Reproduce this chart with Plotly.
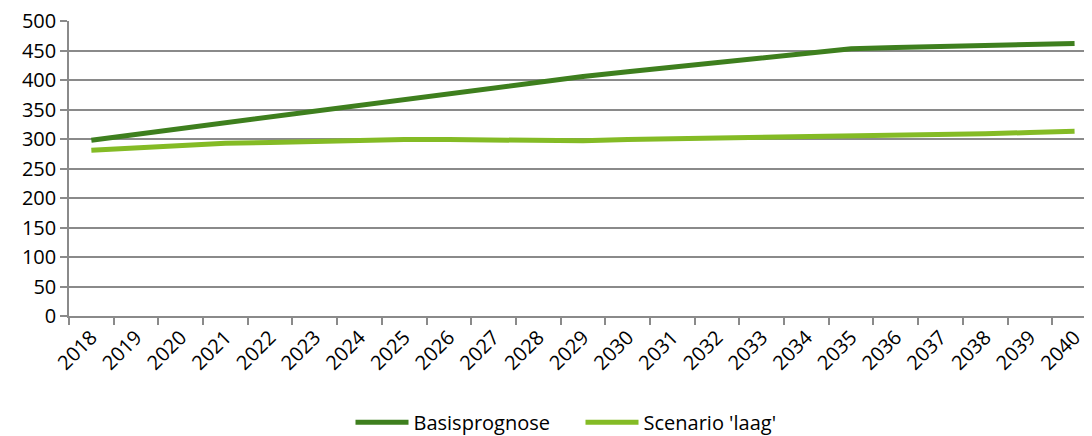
import plotly.graph_objects as go

years = [str(y) for y in range(2018, 2041)]
basis = [298, 308, 318, 328, 338, 348, 358, 368, 378, 387, 397, 406,
         414, 422, 430, 438, 446, 453, 455, 457, 459, 461, 462]
laag = [281, 285, 290, 293, 294, 296, 298, 299, 299, 298, 297, 297,
        299, 300, 302, 302, 303, 304, 306, 307, 309, 311, 313]

FONT = "Open Sans"
GRID = "#8a8a8a"

fig = go.Figure()
fig.add_trace(go.Scatter(x=years, y=basis, mode="lines", name="Basisprognose",
                         line=dict(color="#3e7f1e", width=5)))
fig.add_trace(go.Scatter(x=years, y=laag, mode="lines", name="Scenario 'laag'",
                         line=dict(color="#84bb25", width=5)))

# page body has an 8px default margin, so the figure is sized to fit the window
fig.update_layout(
    width=1084, height=428,
    margin=dict(l=61, r=0, t=13, b=120, autoexpand=False),
    paper_bgcolor="white", plot_bgcolor="white",
    font=dict(family=FONT, size=20, color="#000000"),
    showlegend=True,
    legend=dict(orientation="h", x=0.5, xanchor="center", y=-0.36, yanchor="middle",
                font=dict(size=20), itemwidth=53, entrywidth=162,
                traceorder="normal"),
)
fig.update_xaxes(
    type="category", range=[-0.5, 22.39], automargin=False,
    tickson="boundaries", ticks="outside", ticklen=7, tickcolor=GRID, tickwidth=1.5,
    showline=True, linecolor=GRID, linewidth=1.5,
    showgrid=False, tickangle=-45, tickfont=dict(size=20),
    ticklabeloverflow="allow",
)
fig.update_yaxes(
    range=[0, 500], tickvals=list(range(0, 501, 50)), automargin=False,
    ticks="outside", ticklen=7, tickcolor=GRID, tickwidth=1.5,
    showline=True, linecolor=GRID, linewidth=1.5,
    showgrid=True, gridcolor=GRID, gridwidth=1.5, zeroline=False,
    tickfont=dict(size=20), ticklabeloverflow="allow",
)

fig.write_html("out.html")
